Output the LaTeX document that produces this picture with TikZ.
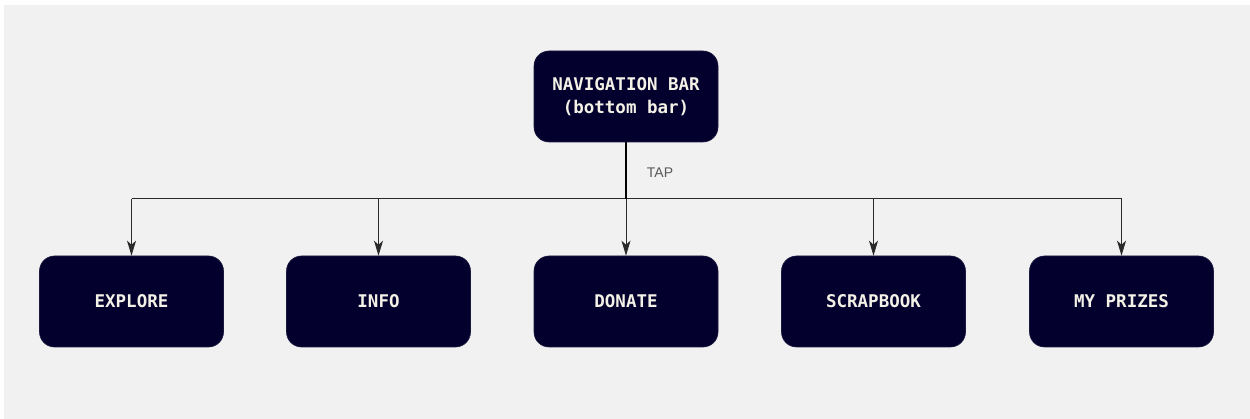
\documentclass[tikz,border=0pt]{standalone}
\usepackage{fontspec}
\setmainfont{Liberation Sans}
\newfontfamily\boxfont{DejaVu Sans Mono}
\usetikzlibrary{arrows.meta}
\definecolor{navy}{HTML}{03002E}
\definecolor{bg}{HTML}{F1F1F1}
\definecolor{boxtext}{HTML}{F4F1E6}
\definecolor{linecol}{HTML}{2A2A2A}
\tikzset{
  navbox/.style={draw=navy!80!gray, line width=0.6pt, fill=navy, rounded corners=15pt,
    minimum width=184pt, minimum height=91pt, inner sep=0pt,
    text=boxtext, font=\boxfont\bfseries\fontsize{17.5}{23}\selectfont, align=center},
  conn/.style={draw=linecol, line width=1pt},
  stem/.style={draw=black, line width=1.8pt},
  arr/.style={conn, -{Stealth[length=15pt,width=9pt,inset=4pt]}},
  lbl/.style={font=\fontsize{14}{16}\selectfont, text=black!65}
}
\begin{document}
\begin{tikzpicture}[x=1pt,y=-1pt]
\useasboundingbox (0,0) rectangle (1250,419);
\fill[white] (0,0) rectangle (1250,419);
\fill[bg] (4,5) rectangle (1250,419);
\node[navbox] (nav) at (626,96.5) {NAVIGATION BAR\\(bottom bar)};
\node[navbox] (explore) at (131.5,301.5) {EXPLORE};
\node[navbox] (info) at (378.5,301.5) {INFO};
\node[navbox] (donate) at (626,301.5) {DONATE};
\node[navbox] (scrap) at (873.5,301.5) {SCRAPBOOK};
\node[navbox] (prizes) at (1121.5,301.5) {MY PRIZES};
\coordinate (hub) at (626,199);
\draw[conn] (explore.north |- hub) -- (prizes.north |- hub);
\draw[stem] (nav.south) -- (hub);
\foreach \n in {explore,info,donate,scrap,prizes}
  \draw[arr] (\n.north |- hub) -- (\n.north);
\node[lbl] (tap) at (660,173) {TAP};
\end{tikzpicture}
\end{document}
